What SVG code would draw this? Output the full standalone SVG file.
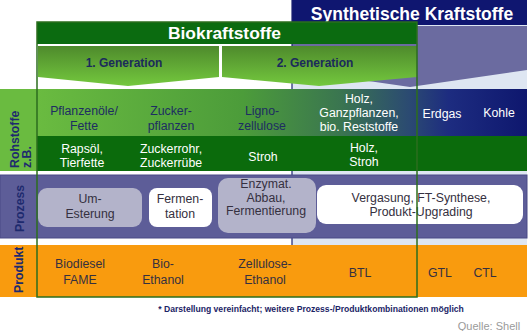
<svg xmlns="http://www.w3.org/2000/svg" width="529" height="331" viewBox="0 0 529 331">
<defs>
<linearGradient id="chev" x1="0" y1="0" x2="0" y2="1">
<stop offset="0" stop-color="#4e8a2c"/>
<stop offset="1" stop-color="#74c83e"/>
</linearGradient>
<linearGradient id="raw" gradientUnits="userSpaceOnUse" x1="37" y1="0" x2="527" y2="0">
<stop offset="0" stop-color="#6abb40"/>
<stop offset="0.42" stop-color="#4c9c3a"/>
<stop offset="0.62" stop-color="#3a7550"/>
<stop offset="0.76" stop-color="#2b4a72"/>
<stop offset="0.84" stop-color="#1d2c80"/>
<stop offset="1" stop-color="#0e176e"/>
</linearGradient>
<style>
text{font-family:"Liberation Sans",Arial,sans-serif;text-anchor:middle}
.t{font-size:12.3px;fill:#1d2d62}
.w{font-size:12.3px;fill:#ffffff}
.d{font-size:12.3px;fill:#353040}
.lbl{font-size:12.3px;font-weight:bold;fill:#1e2a6e;text-anchor:start}
.gen{font-size:12px;font-weight:bold;fill:#1b2b5b}
.box{fill:#b3b3ca}
.wbox{fill:#ffffff}
</style>
</defs>
<rect width="529" height="331" fill="#ffffff"/>
<g id="synthetic-area">
<rect x="292" y="25" width="235" height="222" fill="#dee6f2"/>
<polygon points="292,26 527,26 527,70 410,87 292,70" fill="#6b6ba0"/>
<rect x="292" y="0" width="235" height="25" fill="#0f1670"/>
<line x1="292" y1="0" x2="292" y2="247" stroke="#1a2070" stroke-width="1.2"/>
<text x="412" y="19.5" style="font-size:17.5px;font-weight:bold;fill:#ffffff">Synthetische Kraftstoffe</text>
</g>
<g id="generation-1">
<polygon points="38,46 219,46 219,77 128,86 38,77" fill="url(#chev)"/>
<text class="gen" x="124" y="67">1. Generation</text>
</g>
<g id="generation-2">
<polygon points="222,46 417,46 417,77 319,86 222,77" fill="url(#chev)"/>
<text class="gen" x="315" y="67">2. Generation</text>
</g>
<g id="rohstoffe">
<rect x="0" y="89" width="37" height="82" fill="#6abb40"/>
<rect x="37" y="89" width="490" height="47" fill="url(#raw)"/>
<rect x="37" y="136" width="490" height="35" fill="#0b6b0c"/>
<text class="lbl" transform="translate(19,168) rotate(-90)">Rohstoffe</text>
<text class="lbl" transform="translate(31,168) rotate(-90)">z.B.</text>
<text class="t" x="84" y="115">Pflanzenöle/</text>
<text class="t" x="84" y="129.5">Fette</text>
<text class="t" x="171" y="115">Zucker-</text>
<text class="t" x="171" y="129.5">pflanzen</text>
<text class="t" x="262" y="115">Ligno-</text>
<text class="t" x="262" y="129.5">zellulose</text>
<text class="w" x="359" y="103">Holz,</text>
<text class="w" x="359" y="117">Ganzpflanzen,</text>
<text class="w" x="359" y="131">bio. Reststoffe</text>
<text class="w" x="442" y="118">Erdgas</text>
<text class="w" x="499" y="117">Kohle</text>
<text class="w" x="82" y="153">Rapsöl,</text>
<text class="w" x="82" y="167">Tierfette</text>
<text class="w" x="171" y="153">Zuckerrohr,</text>
<text class="w" x="171" y="167">Zuckerrübe</text>
<text class="w" x="263" y="160.5">Stroh</text>
<text class="w" x="364" y="152">Holz,</text>
<text class="w" x="364" y="166">Stroh</text>
</g>
<g id="prozess">
<rect x="0" y="175" width="527" height="63" fill="#5d5d98" stroke="#4a4a86" stroke-width="1"/>
<text class="lbl" transform="translate(24,232) rotate(-90)">Prozess</text>
</g>
<g id="um-esterung">
<rect class="box" x="38" y="188" width="104" height="39" rx="9"/>
<text class="d" x="90" y="203">Um-</text>
<text class="d" x="90" y="217.5">Esterung</text>
</g>
<g id="fermentation">
<rect class="wbox" x="149" y="188" width="63" height="39" rx="8"/>
<text class="d" x="180" y="203">Fermen-</text>
<text class="d" x="180" y="217.5">tation</text>
</g>
<g id="enzymat">
<rect class="box" x="218" y="178" width="98" height="55" rx="10"/>
<text class="d" x="266" y="188">Enzymat.</text>
<text class="d" x="266" y="201.5">Abbau,</text>
<text class="d" x="266" y="215">Fermentierung</text>
</g>
<g id="vergasung">
<rect class="wbox" x="317" y="185" width="206" height="39" rx="9"/>
<text class="d" x="421" y="202">Vergasung, FT-Synthese,</text>
<text class="d" x="421" y="216">Produkt-Upgrading</text>
</g>
<g id="produkt">
<rect x="0" y="245" width="527" height="52" fill="#f99b0e"/>
<text class="lbl" transform="translate(23,293) rotate(-90)">Produkt</text>
<text class="d" x="80" y="268">Biodiesel</text>
<text class="d" x="80" y="283.5">FAME</text>
<text class="d" x="163" y="268">Bio-</text>
<text class="d" x="163" y="283.5">Ethanol</text>
<text class="d" x="265" y="268">Zellulose-</text>
<text class="d" x="265" y="283.5">Ethanol</text>
<text class="d" x="360" y="277">BTL</text>
<text class="d" x="440" y="277">GTL</text>
<text class="d" x="485" y="277">CTL</text>
</g>
<g id="biokraftstoffe">
<rect x="37" y="22" width="380" height="22" fill="#0b6b10"/>
<rect x="37" y="22" width="380" height="275" fill="none" stroke="#2c6e1e" stroke-width="1.5"/>
<text x="224.5" y="39" style="font-size:17.4px;font-weight:bold;fill:#ffffff">Biokraftstoffe</text>
</g>
<g id="connectors"></g>
<text x="311" y="312" style="font-size:8.6px;font-weight:bold;fill:#1b2466">* Darstellung vereinfacht; weitere Prozess-/Produktkombinationen möglich</text>
<text x="489" y="330" style="font-size:11px;fill:#9a9a9a">Quelle: Shell</text>
</svg>
